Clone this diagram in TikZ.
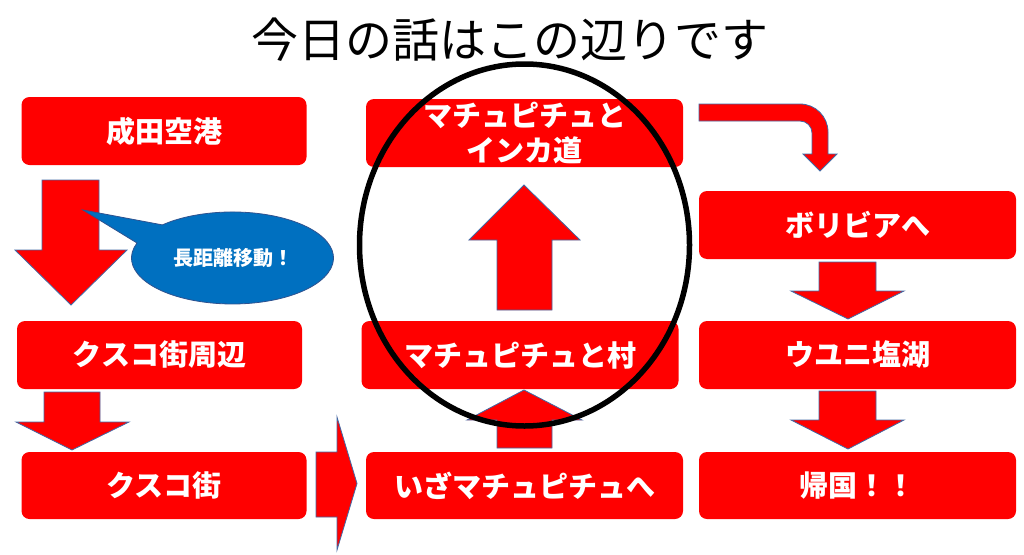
\documentclass[tikz,border=0pt]{standalone}
\usepackage{fontspec}
\newfontfamily\jp{Noto Sans CJK JP}
\usepackage{tikz}
\usetikzlibrary{shapes.geometric,positioning}
\definecolor{arrline}{RGB}{65,105,165}
\definecolor{callblue}{RGB}{0,112,192}
\definecolor{calledge}{RGB}{47,82,143}

\begin{document}
\begin{tikzpicture}[x=1pt, y=-1pt, place/.style={rectangle, rounded corners=8pt, fill=red, text=white, font=\jp\bfseries\fontsize{29}{35}\selectfont, minimum height=68pt, inner sep=0pt, align=center}, narrow/.style={place, minimum width=285pt}, wide/.style={place, minimum width=317pt}, blockarrow/.style={fill=red, draw=arrline, line width=0.8pt, line join=miter}]
			\useasboundingbox (0,0) rectangle (1024,554);

			\node[font=\jp\fontsize{47}{52}\selectfont] (title) at (510,40) {今日の話はこの辺りです};

			% left column
			\node[narrow] (narita) at (164,131) {成田空港};
			\node[narrow] (cuscoarea) at (159.5,355) {クスコ街周辺};
			\node[narrow, minimum height=67pt] (cusco) at (164,485.5) {クスコ街};

			% middle column
			\node[wide] (inca) at (524.5,133) {マチュピチュと\\インカ道};
			\node[wide] (village) at (520,355) {マチュピチュと村};
			\node[wide, minimum height=67pt] (goto) at (524.5,485.5) {いざマチュピチュへ};

			% right column
			\node[wide] (bolivia) at (857.5,225) {ボリビアへ};
			\node[wide] (uyuni) at (857.5,355) {ウユニ塩湖};
			\node[wide, minimum height=67pt] (home) at (857.5,485.5) {帰国！！};

			% block arrows
			\draw[blockarrow] (42,180) -- (99,180) -- (99,250) -- (127,250) -- (71,305) -- (15,250) -- (42,250) -- cycle;
			\draw[blockarrow] (44,392) -- (100,392) -- (100,422) -- (129,422) -- (72,450) -- (16,422) -- (44,422) -- cycle;
			\draw[blockarrow] (316,452) -- (337,452) -- (337,417) -- (357,483.5) -- (337,550) -- (337,517) -- (316,517) -- cycle;
			\draw[blockarrow] (497,448) -- (552,448) -- (552,420) -- (582,420) -- (524,390) -- (467,420) -- (497,420) -- cycle;
			\draw[blockarrow] (497,310) -- (552,310) -- (552,240) -- (580,240) -- (524,185) -- (469,240) -- (497,240) -- cycle;
			\draw[blockarrow] (699,104) -- (800,104) arc[start angle=-90, end angle=0, radius=28] -- (828,154) -- (837,154) -- (820,171) -- (803,154) -- (812,154) -- (812,133) arc[start angle=0, end angle=-90, radius=12] -- (699,121) -- cycle;
			\draw[blockarrow] (819,262) -- (876,262) -- (876,291) -- (904,291) -- (848,319) -- (791,291) -- (819,291) -- cycle;
			\draw[blockarrow] (819,391) -- (876,391) -- (876,420) -- (904,420) -- (848,449) -- (791,420) -- (819,420) -- cycle;

			% callout
			\coordinate (tip) at (83,210);
			\draw[fill=callblue, draw=calledge, line width=0.8pt] (163,225) -- (tip) -- (137,243) arc[start angle=199, end angle=-134, x radius=101, y radius=46] -- cycle;
			\node[text=white, font=\jp\bfseries\fontsize{20}{24}\selectfont] (move) at (233,258) {長距離移動！};

			% focus ring
			\node[ellipse, draw=black, line width=5.5pt, minimum width=330pt, minimum height=362pt, inner sep=0pt] (focus) at (524.5,245) {};
		\end{tikzpicture}
\end{document}
